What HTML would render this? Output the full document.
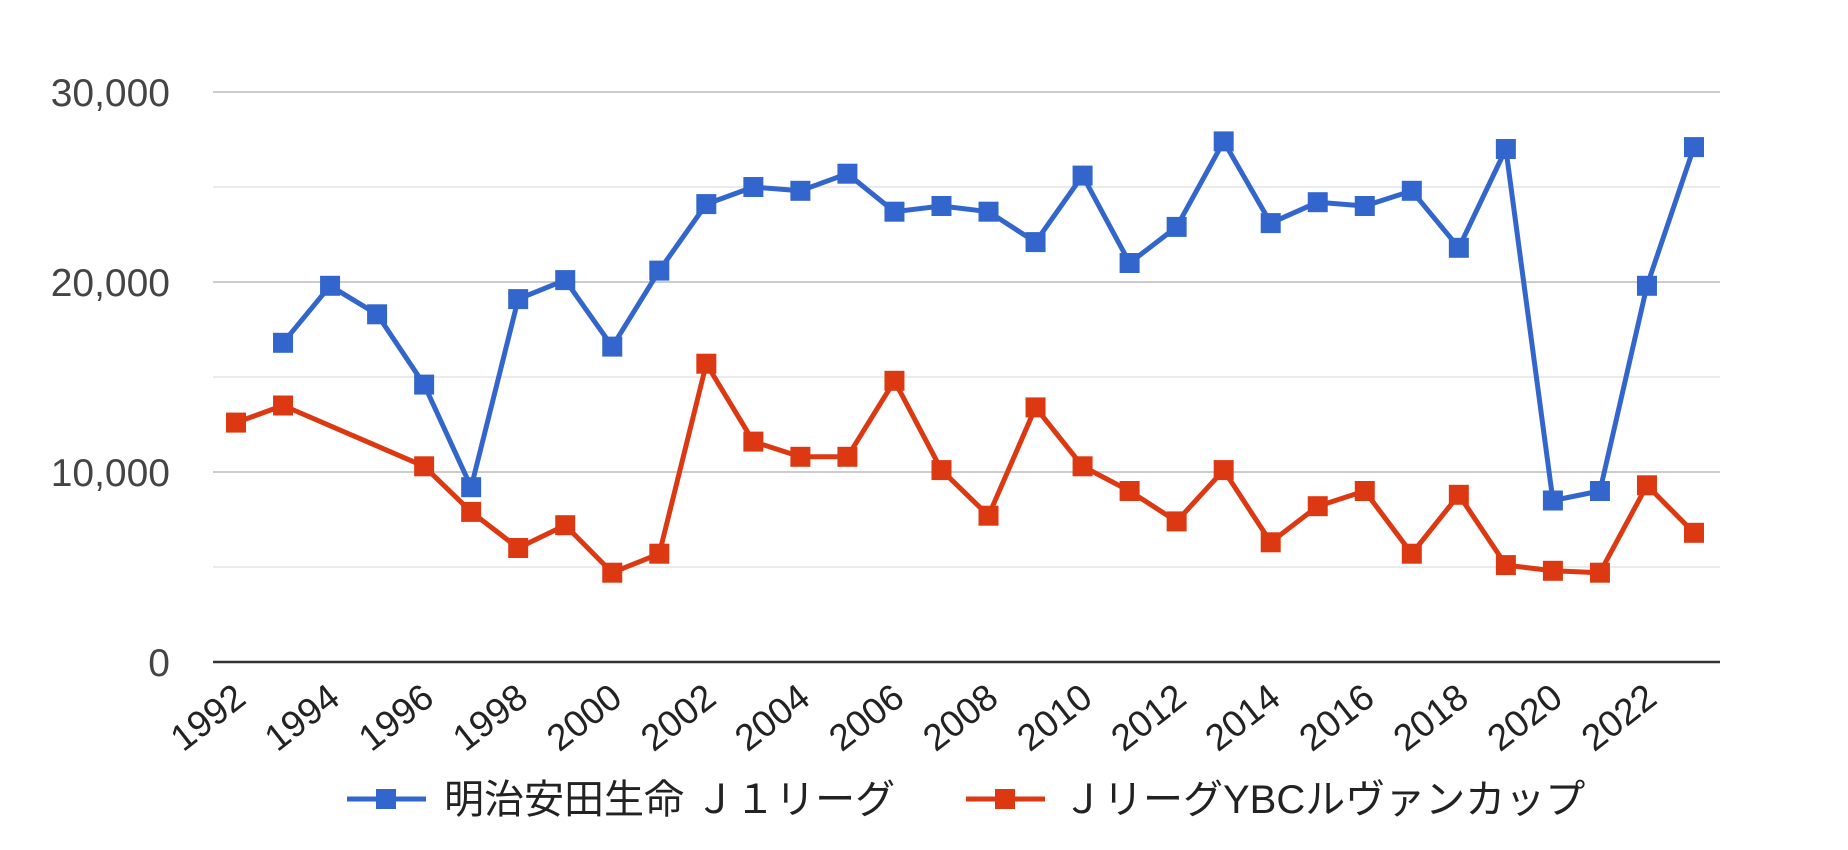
<!DOCTYPE html>
<html><head><meta charset="utf-8"><style>body{margin:0;background:#fff}svg{display:block}</style></head>
<body>
<svg id="chart" width="1848" height="850" xmlns="http://www.w3.org/2000/svg" font-family="Liberation Sans, Noto Sans CJK JP, sans-serif"></svg>
<script>
const years = [1992,1993,1994,1995,1996,1997,1998,1999,2000,2001,2002,2003,2004,2005,2006,2007,2008,2009,2010,2011,2012,2013,2014,2015,2016,2017,2018,2019,2020,2021,2022,2023];
const j1 = [null,16800,19800,18300,14600,9200,19100,20100,16600,20600,24100,25000,24800,25700,23700,24000,23700,22100,25600,21000,22900,27400,23100,24200,24000,24800,21800,27000,8500,9000,19800,27100];
const cup = [12600,13500,null,null,10300,7900,6000,7200,4700,5700,15700,11600,10800,10800,14800,10100,7700,13400,10300,9000,7400,10100,6300,8200,9000,5700,8800,5100,4800,4700,9300,6800];
const yTicks = [0,10000,20000,30000];
const xTickYears = [1992,1994,1996,1998,2000,2002,2004,2006,2008,2010,2012,2014,2016,2018,2020,2022];
const NS='http://www.w3.org/2000/svg', svg=document.getElementById('chart');
const L=213,R=1720,Y0=662,Y30=92;
const x=yr=>236+(yr-1992)*(1694-236)/31;
const y=v=>Y0-(v/30000)*(Y0-Y30);
function mk(t,a,p){const e=document.createElementNS(NS,t);for(const k in a)e.setAttribute(k,a[k]);(p||svg).appendChild(e);return e;}
for(let v=5000;v<=30000;v+=5000){
 const g=mk('line',{x1:L,x2:R,y1:y(v),y2:y(v),stroke:v%10000?'#ebebeb':'#cccccc','stroke-width':2});
 
 
}
const ax=mk('line',{x1:L,x2:R,y1:Y0,y2:Y0,stroke:'#333','stroke-width':2.5});


yTicks.forEach(v=>{
 const t=mk('text',{x:170,y:y(v)+14,'text-anchor':'end','font-size':39,fill:'#444'});
 t.textContent=v.toLocaleString('en-US');
 
 
});
xTickYears.forEach(yr=>{
 const px=x(yr)+12,py=702;
 const t=mk('text',{x:px,y:py,'text-anchor':'end','font-size':37,fill:'#222',transform:`rotate(-38 ${px} ${py})`});
 t.textContent=yr;
 
 
});
function series(vals,color,name){
 const g=mk('g',{});
 
 
 let d='';
 vals.forEach((v,i)=>{if(v==null)return;d+=(d?'L':'M')+x(years[i])+','+y(v);});
 const p=mk('path',{d,fill:'none',stroke:color,'stroke-width':5,'stroke-linejoin':'round'},g);
 
 
 vals.forEach((v,i)=>{if(v==null)return;
  const r=mk('rect',{x:x(years[i])-10,y:y(v)-10,width:20,height:20,fill:color},g);
  
  
 });
}
series(j1,'#3366cc','j1-league-series');
series(cup,'#dc3912','ybc-cup-series');
function legend(x0,color,label,name){
 const g=mk('g',{});
 
 
 mk('line',{x1:x0,x2:x0+79,y1:799,y2:799,stroke:color,'stroke-width':5},g);
 mk('rect',{x:x0+29,y:789,width:20,height:20,fill:color},g);
 const t=mk('text',{x:x0+97,y:813,'font-size':40,fill:'#222'},g);
 t.textContent=label;
}
legend(347,'#3366cc','明治安田生命 Ｊ１リーグ','legend-j1-league');
legend(966,'#dc3912','ＪリーグYBCルヴァンカップ','legend-ybc-cup');
</script>
</body></html>
